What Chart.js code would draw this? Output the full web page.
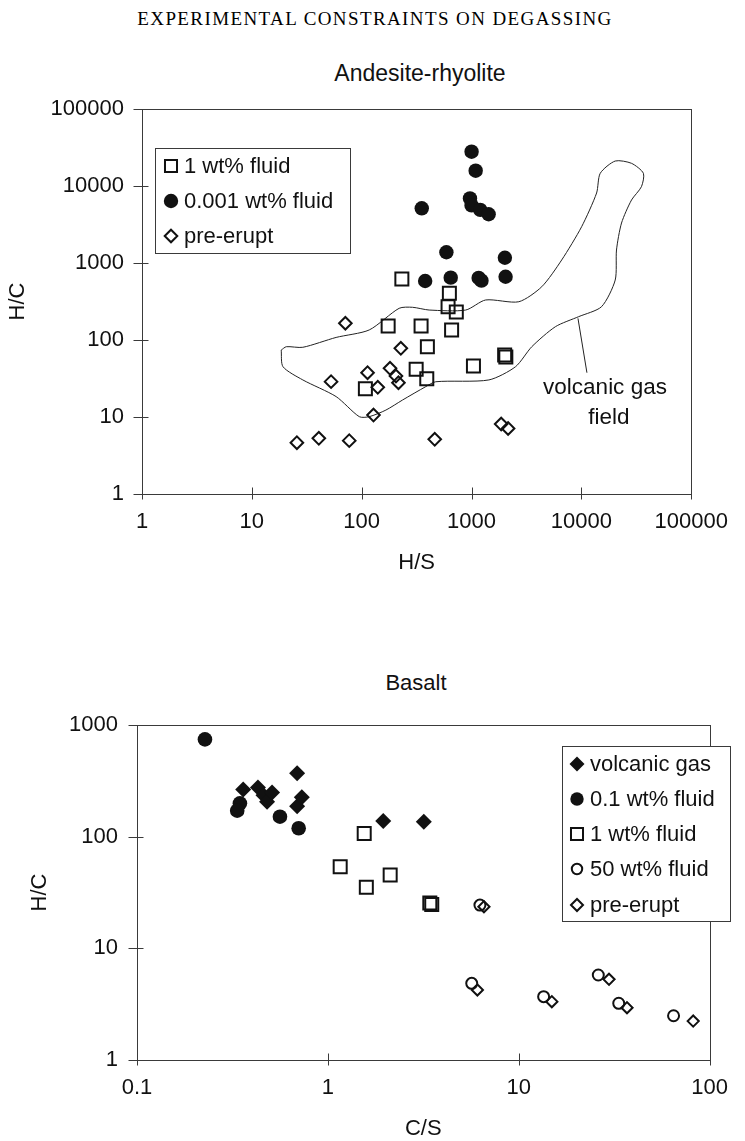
<!DOCTYPE html>
<html>
<head>
<meta charset="utf-8">
<title>Experimental constraints on degassing</title>
<script src="https://cdn.jsdelivr.net/npm/chart.js@4"></script>
<style>
  body { margin: 0; background: #fff; }
  #page { position: relative; width: 745px; height: 1141px; overflow: hidden;
          font-family: "Liberation Sans", Arial, sans-serif; color: #111; }
  .txt { position: absolute; white-space: nowrap; line-height: 1; transform: translateX(-50%); }
  #head { top: 9px; left: 375px; font-family: "Liberation Serif", serif; font-size: 19px; letter-spacing: 1.4px; color: #000; }
  #title1 { top: 62px; left: 420px; font-size: 23px; }
  #title2 { top: 672px; left: 416px; font-size: 22px; }
  #gas1 { top: 376px; left: 605px; font-size: 22.5px; }
  #gas2 { top: 406px; left: 609px; font-size: 22.5px; }
  canvas { position: absolute; left: 0; }
  #c1 { top: 40px; }
  #c2 { top: 600px; }
</style>
</head>
<body>
<div id="page">
  <div class="txt" id="head">EXPERIMENTAL CONSTRAINTS ON DEGASSING</div>
  <div class="txt" id="title1">Andesite-rhyolite</div>
  <div class="txt" id="title2">Basalt</div>
  <canvas id="c1" width="745" height="560"></canvas>
  <canvas id="c2" width="745" height="541"></canvas>
  <div class="txt" id="gas1">volcanic gas</div>
  <div class="txt" id="gas2">field</div>
</div>

<script>
// ---- andesite-rhyolite: H/S vs H/C ----
const hsTicks = [1, 10, 100, 1000, 10000, 100000];
const hcTicks = [1, 10, 100, 1000, 10000, 100000];

const fluid1HS = [232, 628, 611, 726, 174, 347, 658, 396, 313, 391, 108, 1040, 2000, 2050];
const fluid1HC = [620, 404, 271, 231, 152, 152, 135, 82, 41.6, 31.4, 23.3, 46, 64, 60];

const fluid0001HS = [1000, 1090, 967, 1000, 1200, 1430, 352, 590, 2010, 378, 646, 1160, 1230, 2040];
const fluid0001HC = [27900, 15800, 6900, 5600, 4900, 4300, 5130, 1380, 1170, 584, 645, 640, 590, 663];

const preHS = [71, 227, 113, 181, 205, 216, 140, 52.6, 128, 25.7, 40.7, 77, 462, 1860, 2150];
const preHC = [165, 78, 37.6, 42.9, 34, 27.9, 24.3, 28.8, 10.6, 4.64, 5.29, 4.93, 5.13, 8.1, 7.1];

// outline of the volcanic gas field (closed loop)
const fieldHS = [18.5, 20.6, 29.1, 58.5, 117, 219, 290, 411, 884, 1343, 2692, 4355, 6610, 10040, 13740,
                 14830, 20300, 28570, 36650, 35160, 28570, 23170, 20850, 20300, 15250, 9440, 5800, 3532,
                 2513, 1438, 472, 383, 235, 166, 117, 95, 58.5, 29.1, 19.2, 18.5];
const fieldHC = [74, 81.8, 80.4, 108, 135, 258, 266, 245, 245, 331, 314, 492, 1094, 2960, 8110,
                 14620, 21100, 19700, 14620, 9790, 6580, 3306, 1475, 601, 271, 201, 149, 81.8,
                 45, 30.3, 28.7, 24.8, 16.6, 12.3, 10.1, 10.1, 18.4, 30.3, 45, 74];
const leaderHS = [9300, 11220];
const leaderHC = [191, 37.6];

// ---- basalt: C/S vs H/C ----
const csTicks = [0.1, 1, 10, 100];
const hcBasaltTicks = [1, 10, 100, 1000];

const gasCS = [0.36, 0.43, 0.46, 0.48, 0.51, 0.69, 0.69, 0.73, 1.95, 3.18];
const gasHC = [265, 275, 235, 205, 248, 369, 187, 225, 138, 136];

const fluid01CS = [0.227, 0.346, 0.335, 0.561, 0.703];
const fluid01HC = [743, 199, 171, 151, 119];

const fluid1bCS = [1.55, 1.16, 1.59, 2.12, 3.42, 3.5];
const fluid1bHC = [107, 53.8, 35.2, 45.3, 25.5, 24.7];

const fluid50CS = [6.26, 5.67, 13.5, 26.1, 33.4, 64.7];
const fluid50HC = [24.4, 4.86, 3.69, 5.77, 3.22, 2.49];

const preBCS = [6.57, 6.07, 14.9, 29.7, 36.9, 82];
const preBHC = [23.6, 4.24, 3.33, 5.28, 2.94, 2.23];

const ink = '#111';
const axisInk = '#3a3a3a';
const sans = '"Liberation Sans", Arial, sans-serif';
const clear = 'rgba(0,0,0,0)';

function zip(xs, ys) {
  return xs.map((x, i) => ({x: x, y: ys[i]}));
}

function marks(label, xs, ys, style, r, filled, bw) {
  return {
    label: label,
    data: zip(xs, ys),
    pointStyle: style,
    pointRadius: r,
    pointHoverRadius: r,
    pointBorderWidth: bw,
    pointBorderColor: ink,
    pointBackgroundColor: filled ? ink : clear,
    showLine: false
  };
}

function outline(xs, ys, tension) {
  return {
    inLegend: false,
    data: zip(xs, ys),
    showLine: true,
    pointRadius: 0,
    borderWidth: 1,
    borderColor: '#222',
    tension: tension,
    fill: false
  };
}

function logAxis(ticks, title, o) {
  return {
    type: 'logarithmic',
    position: o.position,
    min: ticks[0],
    max: ticks[ticks.length - 1],
    grid: {display: false, drawTicks: false},
    border: {display: false},
    afterBuildTicks: s => { s.ticks = ticks.map(v => ({value: v})); },
    afterFit: s => {
      if (o.width) s.width = o.width;
      if (o.height) s.height = o.height;
    },
    ticks: {
      color: ink, autoSkip: false, maxRotation: 0, padding: o.pad,
      font: {family: sans, size: 22, lineHeight: 1},
      callback: v => String(v)
    },
    title: {
      display: true, text: title, color: ink, padding: o.titlePad,
      font: {family: sans, size: 22, lineHeight: 1}
    }
  };
}

// frame round the plot area, with short ticks crossing the axes
const frame = {
  id: 'frame',
  beforeDatasetsDraw(chart) {
    const {ctx, chartArea: a, scales} = chart;
    const L = Math.round(a.left) + 0.5, R = Math.round(a.right) + 0.5;
    const T = Math.round(a.top) + 0.5, B = Math.round(a.bottom) + 0.5;
    ctx.save();
    ctx.strokeStyle = axisInk;
    ctx.lineWidth = 1;
    ctx.strokeRect(L, T, R - L, B - T);
    ctx.beginPath();
    scales.x.ticks.forEach(t => {
      const px = Math.round(scales.x.getPixelForValue(t.value)) + 0.5;
      ctx.moveTo(px, B - 7);
      ctx.lineTo(px, B + 5);
    });
    scales.y.ticks.forEach(t => {
      const py = Math.round(scales.y.getPixelForValue(t.value)) + 0.5;
      ctx.moveTo(L - 9, py);
      ctx.lineTo(L + 6, py);
    });
    ctx.stroke();
    ctx.restore();
  }
};

// boxed key drawn inside the plot
const boxKey = {
  id: 'boxKey',
  afterDatasetsDraw(chart, args, opts) {
    const ctx = chart.ctx;
    const [x, y, w, h] = opts.box;
    ctx.save();
    ctx.fillStyle = '#fff';
    ctx.fillRect(x, y, w, h);
    ctx.strokeStyle = axisInk;
    ctx.lineWidth = 1;
    ctx.strokeRect(x + 0.5, y + 0.5, w, h);
    const sets = chart.data.datasets.filter(d => d.inLegend !== false);
    sets.forEach((d, i) => {
      const cy = opts.rows[i];
      ctx.fillStyle = d.pointBackgroundColor;
      ctx.strokeStyle = d.pointBorderColor;
      ctx.lineWidth = d.pointBorderWidth;
      Chart.helpers.drawPoint(ctx, {
        pointStyle: d.pointStyle, radius: opts.radii[i],
        borderWidth: d.pointBorderWidth, rotation: 0
      }, opts.markX, cy);
      ctx.fillStyle = ink;
      ctx.font = '22px ' + sans;
      ctx.textBaseline = 'middle';
      ctx.textAlign = 'left';
      ctx.fillText(d.label, opts.textX, cy + 1);
    });
    ctx.restore();
  }
};

new Chart(document.getElementById('c1'), {
  type: 'scatter',
  data: {
    datasets: [
      marks('1 wt% fluid', fluid1HS, fluid1HC, 'rect', 9.2, false, 2),
      marks('0.001 wt% fluid', fluid0001HS, fluid0001HC, 'circle', 7.2, true, 0),
      marks('pre-erupt', preHS, preHC, 'rectRot', 6.3, false, 2),
      outline(fieldHS, fieldHC, 0.25),
      outline(leaderHS, leaderHC, 0)
    ]
  },
  options: {
    responsive: false,
    animation: false,
    layout: {padding: {top: 69, right: 52, left: 0, bottom: 0}},
    scales: {
      x: logAxis(hsTicks, 'H/S', {position: 'bottom', height: 106, pad: 17, titlePad: {bottom: 26}}),
      y: logAxis(hcTicks, 'H/C', {position: 'left', width: 142, pad: 18, titlePad: {top: 7}})
    },
    plugins: {
      legend: {display: false},
      tooltip: {enabled: false},
      boxKey: {box: [155, 108, 195, 105], rows: [126, 161, 196], radii: [8.5, 7.2, 6.3], markX: 171, textX: 184}
    }
  },
  plugins: [frame, boxKey]
});

new Chart(document.getElementById('c2'), {
  type: 'scatter',
  data: {
    datasets: [
      marks('volcanic gas', gasCS, gasHC, 'rectRot', 8, true, 0),
      marks('0.1 wt% fluid', fluid01CS, fluid01HC, 'circle', 7.3, true, 0),
      marks('1 wt% fluid', fluid1bCS, fluid1bHC, 'rect', 9.2, false, 2),
      marks('50 wt% fluid', fluid50CS, fluid50HC, 'circle', 5.5, false, 2),
      marks('pre-erupt', preBCS, preBHC, 'rectRot', 5.6, false, 2)
    ]
  },
  options: {
    responsive: false,
    animation: false,
    layout: {padding: {top: 125, right: 24, left: 0, bottom: 0}},
    scales: {
      x: logAxis(csTicks, 'C/S', {position: 'bottom', height: 81, pad: 17, titlePad: {bottom: 1}}),
      y: logAxis(hcBasaltTicks, 'H/C', {position: 'left', width: 137, pad: 19, titlePad: {top: 29}})
    },
    plugins: {
      legend: {display: false},
      tooltip: {enabled: false},
      boxKey: {box: [562, 146, 168, 175], rows: [164, 199, 234, 269, 305], radii: [7.5, 6.7, 8.5, 5.2, 6], markX: 577, textX: 590}
    }
  },
  plugins: [frame, boxKey]
});
</script>
</body>
</html>
